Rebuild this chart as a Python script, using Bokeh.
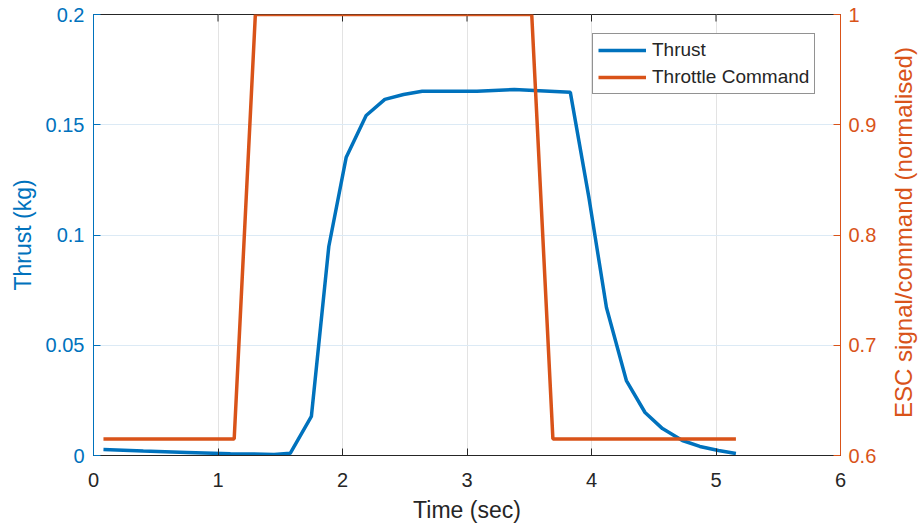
import math
from bokeh.plotting import figure
from bokeh.layouts import row
from bokeh.models import (Range1d, LinearAxis, FixedTicker, CustomJSTickFormatter,
                          Legend, LegendItem)
from bokeh.core.properties import value
from bokeh.embed import file_html
from bokeh.resources import INLINE

# ---- data ----
t_thrust = [0.08, 0.40, 0.75, 1.10, 1.45, 1.58, 1.75, 1.89, 2.03, 2.19, 2.34, 2.49,
            2.64, 3.08, 3.38, 3.54, 3.83, 3.98, 4.12, 4.28, 4.43, 4.57, 4.73, 4.87,
            5.02, 5.16]
thrust = [0.0027, 0.0020, 0.0014, 0.0008, 0.0005, 0.0010, 0.0177, 0.0948, 0.1353,
          0.1542, 0.1615, 0.1637, 0.1652, 0.1652, 0.1660, 0.1655, 0.1647, 0.1167,
          0.0671, 0.0340, 0.0195, 0.0122, 0.0068, 0.0041, 0.0023, 0.0009]

t_cmd = [0.08, 1.13, 1.30, 3.52, 3.69, 5.16]
cmd = [0.615, 0.615, 1.0, 1.0, 0.615, 0.615]

x_ticks = [0, 1, 2, 3, 4, 5, 6]
left_ticks = [0, 0.05, 0.1, 0.15, 0.2]
right_ticks = [0.6, 0.7, 0.8, 0.9, 1.0]
right_title = "ESC signal/command (normalised)"

BLUE = "#0072BD"
ORANGE = "#D95319"
DARK = "#262626"
FONT = "Liberation Sans"

Y0, Y1 = 0.0, 0.2
FRAME_H = 441          # plot-area height in px (527 - 14 - 72)
TICK_PX = 7

p = figure(width=885, height=527, output_backend="svg", toolbar_location=None,
           x_range=Range1d(0, 6), y_range=Range1d(Y0, Y1),
           min_border_left=93, min_border_right=45, min_border_top=14,
           min_border_bottom=72)
p.extra_y_ranges = {"esc": Range1d(0.6, 1.0)}

p.outline_line_color = DARK
p.outline_line_width = 1
p.background_fill_color = "white"
p.border_fill_color = "white"

fmt = CustomJSTickFormatter(code="return String(Math.round(tick*1000)/1000);")

# bottom axis
xa = p.xaxis[0]
xa.ticker = FixedTicker(ticks=x_ticks)
xa.formatter = fmt
xa.axis_label = "Time (sec)"

# left axis
ya = p.yaxis[0]
ya.ticker = FixedTicker(ticks=left_ticks)
ya.formatter = fmt
ya.axis_label = "Thrust (kg)"

# right axis (its title is drawn in a narrow strip to the right)
ra = LinearAxis(y_range_name="esc", ticker=FixedTicker(ticks=right_ticks),
                formatter=fmt)
p.add_layout(ra, "right")

for ax, col in ((xa, DARK), (ya, BLUE), (ra, ORANGE)):
    ax.axis_line_color = col
    ax.major_tick_line_color = col
    ax.major_label_text_color = col
    ax.axis_label_text_color = col
    ax.major_tick_in = TICK_PX
    ax.major_tick_out = 0
    ax.minor_tick_line_color = None
    ax.major_label_text_font = FONT
    ax.axis_label_text_font = FONT
    ax.axis_label_text_font_style = "normal"
    ax.major_label_text_font_size = "20px"
    ax.axis_label_text_font_size = "23px"

xa.major_label_standoff = 17
xa.axis_label_standoff = 7
ya.major_label_standoff = 9
ya.axis_label_standoff = 7
ra.major_label_standoff = 8

# inward tick marks along the top edge of the box
tick_len = TICK_PX * (Y1 - Y0) / FRAME_H
p.segment(x0=x_ticks, y0=[Y1] * len(x_ticks), x1=x_ticks,
          y1=[Y1 - tick_len] * len(x_ticks), line_color=DARK, line_width=1)

p.xgrid.grid_line_color = "#E3E3E3"
p.ygrid.grid_line_color = "#DCEAF5"
p.xgrid.ticker = FixedTicker(ticks=x_ticks)
p.ygrid.ticker = FixedTicker(ticks=left_ticks)

r1 = p.line(t_thrust, thrust, line_color=BLUE, line_width=3.5)
r2 = p.line(t_cmd, cmd, line_color=ORANGE, line_width=3.5, y_range_name="esc")

legend = Legend(items=[LegendItem(label="Thrust", renderers=[r1]),
                       LegendItem(label="Throttle Command", renderers=[r2])],
                location=(499, 361), margin=0, padding=5, spacing=5,
                glyph_width=48, glyph_height=20, label_height=20,
                label_standoff=6, label_text_font=FONT,
                label_text_font_size="19px", label_text_color=DARK,
                border_line_color=DARK, border_line_width=1,
                background_fill_color="white", background_fill_alpha=1)
p.add_layout(legend, "center")

# narrow strip holding the right-hand axis title, reading bottom-to-top
s = figure(width=34, height=527, output_backend="svg", toolbar_location=None,
           x_range=Range1d(0, 34), y_range=Range1d(0, 527),
           min_border=0, outline_line_color=None)
s.axis.visible = False
s.grid.visible = False
s.border_fill_color = "white"
s.text(x=[18], y=[266.5], text=[right_title], angle=math.pi / 2,
       text_align="center", text_baseline="middle",
       text_font=value(FONT), text_font_size="24px", text_color=ORANGE)

layout = row(p, s, spacing=0)
open("out.html", "w").write(file_html(layout, INLINE))
